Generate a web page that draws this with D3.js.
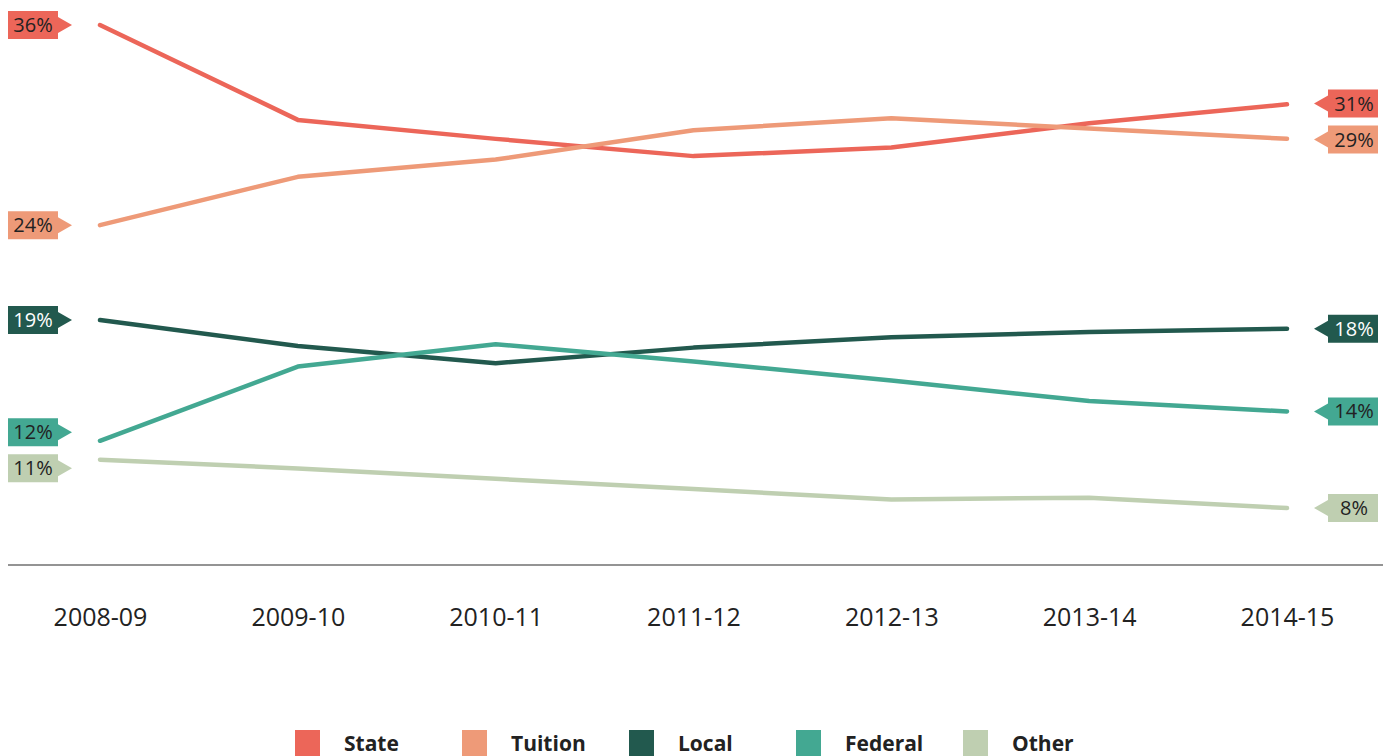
<!DOCTYPE html>
<html>
<head>
<meta charset="utf-8">
<script src="https://cdn.jsdelivr.net/npm/d3@7"></script>
<style>
  body { margin: 0; background: #fff; }
  svg { display: block; font-family: "Open Sans", sans-serif; }
</style>
</head>
<body>
<div id="chart"></div>
<script>
const years = ["2008-09", "2009-10", "2010-11", "2011-12", "2012-13", "2013-14", "2014-15"];
const seriesNames = ["State", "Tuition", "Local", "Federal", "Other"];
const colors = ["#ec6659", "#ee9a78", "#22594e", "#43a892", "#bfcfb1"];
const labelText = ["#222", "#222", "#fff", "#222", "#222"];

// shares of revenue, percent
const state   = [36.0, 30.5, 29.4, 28.4, 28.9, 30.3, 31.4];
const tuition = [24.4, 27.2, 28.2, 29.9, 30.6, 30.0, 29.4];
const local   = [18.9, 17.4, 16.4, 17.3, 17.9, 18.2, 18.4];
const federal = [11.9, 16.2, 17.5, 16.5, 15.4, 14.2, 13.6];
const other   = [10.8, 10.3,  9.7,  9.1,  8.5,  8.6,  8.0];

const allValues = [state, tuition, local, federal, other];

const W = 1383, H = 756;
const svg = d3.select("#chart").append("svg")
    .attr("width", W)
    .attr("height", H);

const x = d3.scalePoint()
    .domain(years)
    .range([100, 1287]);
const y = d3.scaleLinear()
    .domain([4.7, 36])
    .range([565, 25]);

// baseline axis, no ticks
const xAxis = svg.append("g")
    .attr("transform", `translate(0, 565)`)
    .call(d3.axisBottom(x).tickSize(0).tickPadding(43));
xAxis.select(".domain")
    .attr("d", `M8,0H${W}`)
    .attr("stroke", "#707070")
    .attr("stroke-width", 1.5);
xAxis.selectAll("text")
    .attr("font-size", "25px")
    .attr("fill", "#222")
    .style("font-family", "Open Sans, sans-serif");

const line = d3.line()
    .x((d, i) => x(years[i]))
    .y(d => y(d));

const series = seriesNames.map((name, k) => ({name, values: allValues[k], color: colors[k], text: labelText[k]}));

svg.append("g")
    .selectAll("path")
    .data(series)
    .join("path")
        .attr("d", d => line(d.values))
        .attr("fill", "none")
        .attr("stroke", d => d.color)
        .attr("stroke-width", 4.5)
        .attr("stroke-linecap", "round")
        .attr("stroke-linejoin", "round");

// push labels apart when they collide
function spread(items, gap) {
    items.sort((a, b) => a.y - b.y);
    for (let iter = 0; iter < 20; iter++) {
        for (let i = 1; i < items.length; i++) {
            const a = items[i - 1], b = items[i];
            if (b.y - a.y < gap) {
                const mid = (a.y + b.y) / 2;
                a.y = mid - gap / 2;
                b.y = mid + gap / 2;
            }
        }
    }
    return items;
}

const boxH = 28, boxW = 50, arrow = 14, tip = 8;

const startLabels = spread(series.map(s => ({s, v: s.values[0], y: y(s.values[0])})), 36);
const endLabels = spread(series.map(s => ({s, v: s.values[s.values.length - 1], y: y(s.values[s.values.length - 1])})), 36);

const startG = svg.append("g")
    .selectAll("g")
    .data(startLabels)
    .join("g")
        .attr("transform", d => `translate(8, ${d.y})`);
startG.append("path")
    .attr("d", `M0,${-boxH / 2}H${boxW}V${-tip}L${boxW + arrow},0L${boxW},${tip}V${boxH / 2}H0Z`)
    .attr("fill", d => d.s.color);
startG.append("text")
    .attr("x", boxW / 2)
    .attr("y", 7)
    .attr("text-anchor", "middle")
    .attr("font-size", "20px")
    .attr("fill", d => d.s.text)
    .text(d => Math.round(d.v) + "%");

const endG = svg.append("g")
    .selectAll("g")
    .data(endLabels)
    .join("g")
        .attr("transform", d => `translate(1314, ${d.y})`);
endG.append("path")
    .attr("d", `M0,0L${arrow},${-tip}V${-boxH / 2}H${arrow + boxW}V${boxH / 2}H${arrow}V${tip}Z`)
    .attr("fill", d => d.s.color);
endG.append("text")
    .attr("x", arrow + boxW / 2 + 1)
    .attr("y", 7)
    .attr("text-anchor", "middle")
    .attr("font-size", "20px")
    .attr("fill", d => d.s.text)
    .text(d => Math.round(d.v) + "%");

// legend
const legend = svg.append("g")
    .attr("transform", "translate(295, 730)");
const item = legend.selectAll("g")
    .data(series)
    .join("g")
        .attr("transform", (d, i) => `translate(${i * 167}, 0)`);
item.append("rect")
    .attr("width", 25)
    .attr("height", 30)
    .attr("fill", d => d.color);
item.append("text")
    .attr("x", 49)
    .attr("y", 21)
    .attr("font-size", "21px")
    .attr("font-weight", "bold")
    .attr("fill", "#222")
    .text(d => d.name);
</script>
</body>
</html>
